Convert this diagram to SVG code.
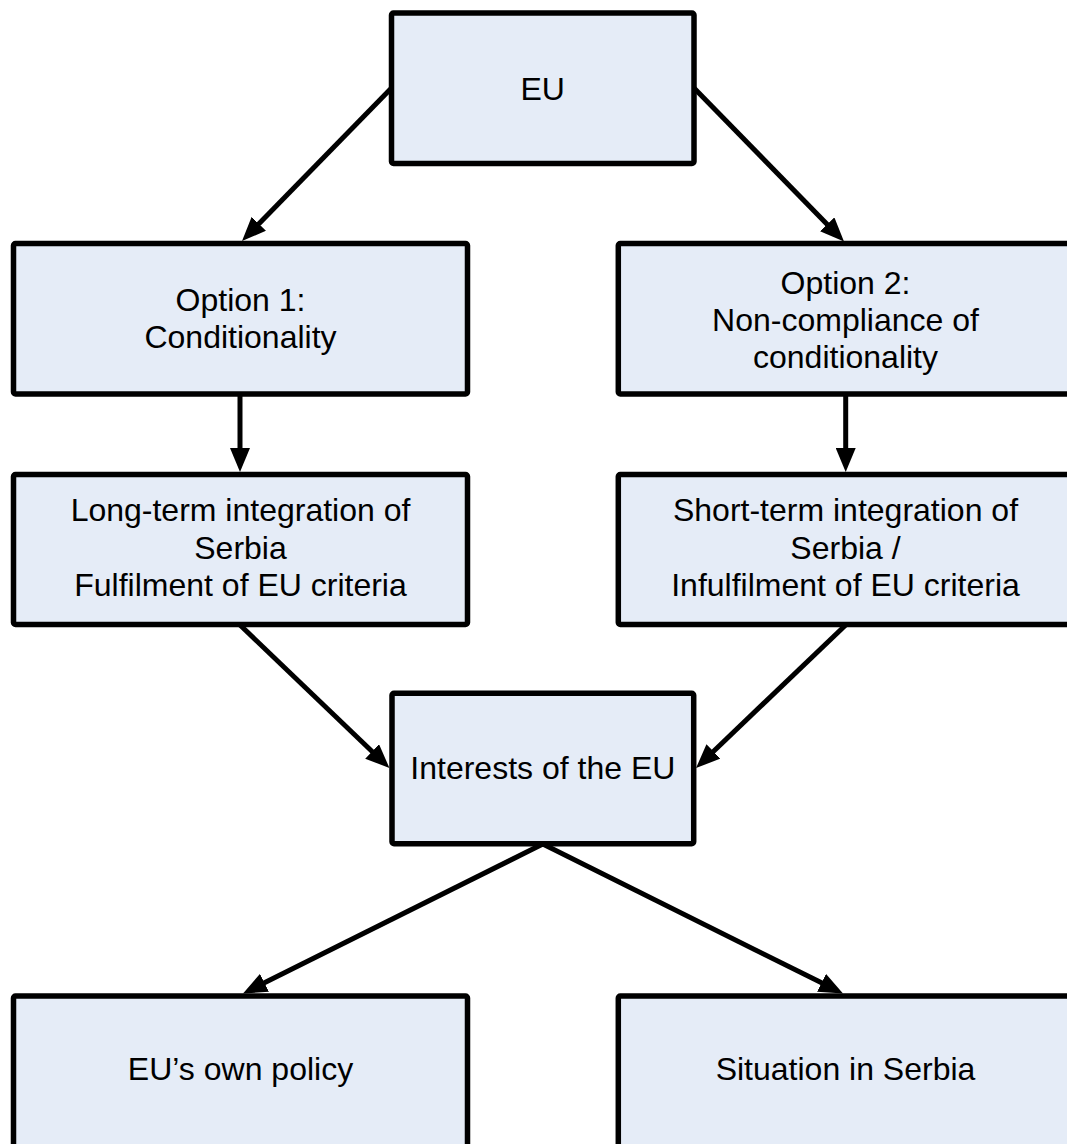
<svg xmlns="http://www.w3.org/2000/svg" width="1067" height="1144" viewBox="0 0 1067 1144">
<style>
.box{fill:#E5ECF7;stroke:#000;stroke-width:5.5;}
.lbl{font-family:"Liberation Sans",Arial,sans-serif;font-size:32px;fill:#000;text-anchor:middle;}
.conn{stroke:#000;stroke-width:5;fill:none;marker-end:url(#ah);}
</style>
<defs>
<marker id="ah" markerUnits="userSpaceOnUse" viewBox="0 0 24 20" markerWidth="24" markerHeight="20" refX="4" refY="10" orient="auto">
<path d="M0,0 L24,10 L0,20 z" fill="#000"/>
</marker>
</defs>
<rect width="1067" height="1144" fill="#fff"/>
<g id="connectors">
<line class="conn" x1="391.5" y1="88" x2="256" y2="226.7"/>
<line class="conn" x1="694" y1="88" x2="830" y2="227.2"/>
<line class="conn" x1="240" y1="394" x2="240" y2="452"/>
<line class="conn" x1="845.7" y1="394" x2="845.7" y2="452"/>
<line class="conn" x1="240" y1="625" x2="375" y2="754.2"/>
<line class="conn" x1="845.7" y1="625" x2="710.5" y2="754.2"/>
<line class="conn" x1="542.8" y1="844" x2="260.9" y2="984.6"/>
<line class="conn" x1="542.8" y1="844" x2="825.1" y2="984.6"/>
</g>
<g id="node-eu">
<rect class="box" x="391.5" y="13" width="302.5" height="150.5" rx="2"/>
<text class="lbl" x="542.75" y="99.5">EU</text>
</g>
<g id="node-option1">
<rect class="box" x="13.5" y="243.5" width="454" height="150.5" rx="2"/>
<text class="lbl" x="240.5" y="311">Option 1:</text>
<text class="lbl" x="240.5" y="348">Conditionality</text>
</g>
<g id="node-option2">
<rect class="box" x="618.3" y="243.5" width="454" height="150.5" rx="2"/>
<text class="lbl" x="845.5" y="293.5">Option 2:</text>
<text class="lbl" x="845.5" y="330.5">Non-compliance of</text>
<text class="lbl" x="845.5" y="367.5">conditionality</text>
</g>
<g id="node-longterm">
<rect class="box" x="13.5" y="474.5" width="454" height="150" rx="2"/>
<text class="lbl" x="240.5" y="521">Long-term integration of</text>
<text class="lbl" x="240.5" y="558.5">Serbia</text>
<text class="lbl" x="240.5" y="596">Fulfilment of EU criteria</text>
</g>
<g id="node-shortterm">
<rect class="box" x="618.3" y="474.5" width="454" height="150" rx="2"/>
<text class="lbl" x="845.5" y="521">Short-term integration of</text>
<text class="lbl" x="845.5" y="558.5">Serbia /</text>
<text class="lbl" x="845.5" y="596">Infulfilment of EU criteria</text>
</g>
<g id="node-interests">
<rect class="box" x="392" y="693.3" width="301.7" height="150.4" rx="2"/>
<text class="lbl" x="542.85" y="779">Interests of the EU</text>
</g>
<g id="node-policy">
<rect class="box" x="13.5" y="996" width="454" height="160" rx="2"/>
<text class="lbl" x="240.5" y="1080">EU’s own policy</text>
</g>
<g id="node-situation">
<rect class="box" x="618.3" y="996" width="454" height="160" rx="2"/>
<text class="lbl" x="845.5" y="1080">Situation in Serbia</text>
</g>
</svg>
